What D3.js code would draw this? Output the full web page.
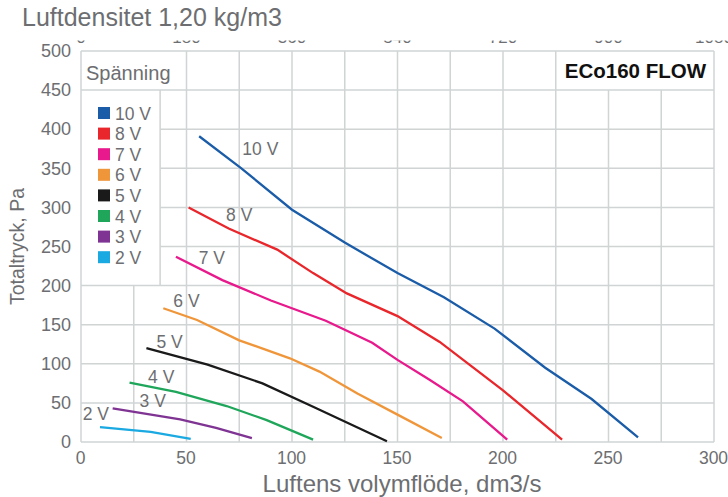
<!DOCTYPE html>
<html>
<head>
<meta charset="utf-8">
<script src="https://cdn.jsdelivr.net/npm/d3@7"></script>
<style>
  body { margin: 0; background: #fff; }
  svg text { font-family: "Liberation Sans", Arial, sans-serif; }
</style>
</head>
<body>
<svg id="chart" width="728" height="497"></svg>
<script>

	// Fan curves, Luftens volymflöde (dm3/s) vs Totaltryck (Pa)
	var voltages = ["10 V", "8 V", "7 V", "6 V", "5 V", "4 V", "3 V", "2 V"];
	var colors = ["#1a5ca8", "#e8262b", "#e7198c", "#f0963a", "#1a1a1a", "#1fa65a", "#7f3393", "#1ba9e1"];

	var curve_10v = [[56,391],[76,350],[100,297],[125,255],[150,216],[172,185],[196,145],[220,95],[242,55],[264,6]];
	var curve_8v = [[51,300],[70,273],[93,246],[110,216],[126,190],[150,161],[170,128],[185,97],[200,66],[228,3]];
	var curve_7v = [[45,237],[67,207],[90,181],[116,155],[138,127],[150,105],[165,80],[181,52],[202,3]];
	var curve_6v = [[39,171],[55,156],[75,130],[99,107],[113,90],[131,62],[150,35],[171,5]];
	var curve_5v = [[31,120],[60,99],[86,75],[110,45],[145,1]];
	var curve_4v = [[23,76],[45,64],[69,46],[88,28],[110,3]];
	var curve_3v = [[15,43],[47,29],[64,18],[81,5]];
	var curve_2v = [[9,19],[33,13],[52,4]];
	var curves = [curve_10v, curve_8v, curve_7v, curve_6v, curve_5v, curve_4v, curve_3v, curve_2v];

	// where the curve labels sit, in data units
	var label_points = [[85,375],[75,290],[62,235],[50,180],[42,128],[38,83],[34,52],[7,36]];

	var x_ticks = [0, 50, 100, 150, 200, 250, 300];
	var y_ticks = [0, 50, 100, 150, 200, 250, 300, 350, 400, 450, 500];
	var top_ticks = [0, 180, 360, 540, 720, 900, 1080];   // m3/h

	var svg = d3.select("#chart");
	var grey = "#6d6e71", grid_color = "#d0d4d4";

	var x = d3.scaleLinear().domain([0, 300]).range([81, 714]);
	var y = d3.scaleLinear().domain([0, 500]).range([442, 51]);
	var x_top = d3.scaleLinear().domain([0, 1080]).range([81, 714]);

	var grid = svg.append("g").attr("stroke", grid_color).attr("stroke-width", 1.5);

	// vertical grid every 25, cut where the legend / title boxes sit
	d3.range(0, 301, 25).forEach(function(v){
		var top = 500;
		if(v > 0 && v < 37.5){ top = 200; }
		else if(v > 225 && v < 300){ top = 450; }
		grid.append("line")
			.attr("x1", x(v)).attr("x2", x(v))
			.attr("y1", y(0)).attr("y2", y(top));
	});

	// horizontal grid every 50
	y_ticks.forEach(function(v){
		var left = (v > 200 && v < 450) ? 37.5 : 0;
		grid.append("line")
			.attr("x1", x(left)).attr("x2", x(300))
			.attr("y1", y(v)).attr("y2", y(v));
	});

	// legend box right edge
	grid.append("line")
		.attr("x1", x(37.5)).attr("x2", x(37.5))
		.attr("y1", y(200)).attr("y2", y(450));

	// bottom axis labels
	var x_axis = svg.append("g")
		.attr("transform", "translate(-1," + y(0) + ")")
		.call(d3.axisBottom(x).tickValues(x_ticks).tickSize(0).tickPadding(10));
	x_axis.select(".domain").remove();
	x_axis.selectAll("text").attr("fill", grey).attr("font-size", 17.5).attr("font-family", "Liberation Sans");

	var y_axis = svg.append("g")
		.attr("transform", "translate(71,0)")
		.call(d3.axisLeft(y).tickValues(y_ticks).tickSize(0).tickPadding(0));
	y_axis.select(".domain").remove();
	y_axis.selectAll("text").attr("fill", grey).attr("font-size", 18).attr("font-family", "Liberation Sans");

	// top axis, labels mostly hidden as in the original
	svg.append("clipPath").attr("id", "top-clip")
		.append("rect").attr("x", 0).attr("y", 40.5).attr("width", 728).attr("height", 4);
	svg.append("g").attr("clip-path", "url(#top-clip)")
		.selectAll("text").data(top_ticks).enter().append("text")
		.attr("x", function(d){ return x_top(d); })
		.attr("y", 42.5)
		.attr("text-anchor", "middle")
		.attr("fill", grey).attr("font-size", 17)
		.text(function(d){ return d; });

	svg.append("text")
		.attr("x", 22).attr("y", 26)
		.attr("fill", grey).attr("font-size", 25)
		.text("Luftdensitet 1,20 kg/m3");

	svg.append("text")
		.attr("x", 402).attr("y", 492)
		.attr("text-anchor", "middle")
		.attr("fill", grey).attr("font-size", 24)
		.text("Luftens volymflöde, dm3/s");

	svg.append("text")
		.attr("transform", "translate(24," + y(250) + ") rotate(-90)")
		.attr("text-anchor", "middle")
		.attr("fill", grey).attr("font-size", 19.5)
		.text("Totaltryck, Pa");

	// title box
	svg.append("text")
		.attr("x", x(300) - 8).attr("y", y(475) + 7.5)
		.attr("text-anchor", "end")
		.attr("font-size", 20.5).attr("font-weight", "bold").attr("fill", "#111")
		.text("ECo160 FLOW");

	// curves
	var line = d3.line()
		.x(function(d){ return x(d[0]); })
		.y(function(d){ return y(d[1]); });

	svg.append("g").selectAll("path").data(curves).enter().append("path")
		.attr("d", line)
		.attr("fill", "none")
		.attr("stroke", function(d, i){ return colors[i]; })
		.attr("stroke-width", 2.3);

	svg.append("g").selectAll("text").data(label_points).enter().append("text")
		.attr("x", function(d){ return x(d[0]); })
		.attr("y", function(d){ return y(d[1]) + 6; })
		.attr("text-anchor", "middle")
		.attr("fill", grey).attr("font-size", 17.5)
		.text(function(d, i){ return voltages[i]; });

	// legend
	svg.append("text")
		.attr("x", 86).attr("y", 80)
		.attr("fill", grey).attr("font-size", 20)
		.text("Spänning");

	var legend = svg.append("g").selectAll("g").data(voltages).enter().append("g")
		.attr("transform", function(d, i){ return "translate(98," + (113 + i * 20.6) + ")"; });
	legend.append("rect")
		.attr("x", 0).attr("y", -6).attr("width", 12).attr("height", 12)
		.attr("fill", function(d, i){ return colors[i]; });
	legend.append("text")
		.attr("x", 17).attr("y", 6.5)
		.attr("fill", grey).attr("font-size", 17.5)
		.text(function(d){ return d; });

</script>
</body>
</html>
